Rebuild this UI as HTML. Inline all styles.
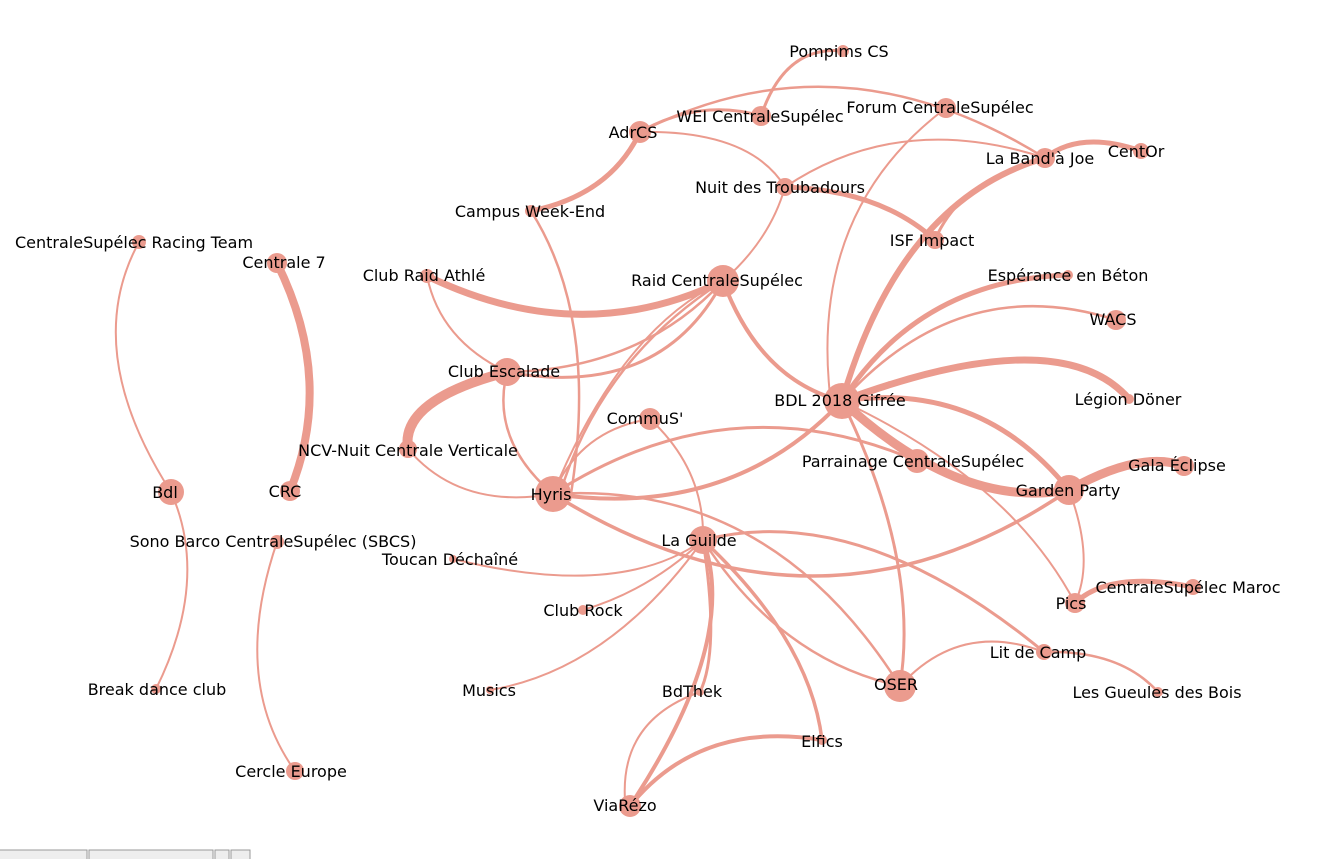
<!DOCTYPE html>
<html><head><meta charset="utf-8"><style>
html,body{margin:0;padding:0;background:#fff;width:1337px;height:859px;overflow:hidden}
svg{display:block}
text{font-family:"DejaVu Sans","Liberation Sans",sans-serif;font-size:16px;fill:#000;text-anchor:middle}
path{fill:none;stroke:#eb9b8e;stroke-linecap:round}
circle{fill:#eb9b8e}
</style></head><body>
<svg width="1337" height="859" viewBox="0 0 1337 859">
<g>
<path d="M761,116 Q785,45 843,51" stroke-width="3"/>
<path d="M640,132 Q700,98 761,116" stroke-width="3"/>
<path d="M640,132 Q840,30 1045,158" stroke-width="2.5"/>
<path d="M640,132 Q750,130 785,187" stroke-width="2"/>
<path d="M640,132 Q610,195 531,211" stroke-width="5"/>
<path d="M531,211 Q600,320 570,500" stroke-width="2.5"/>
<path d="M785,187 Q880,190 935,240" stroke-width="5"/>
<path d="M785,187 Q900,110 1045,158" stroke-width="2"/>
<path d="M785,187 Q770,240 723,281" stroke-width="2"/>
<path d="M946,108 Q810,210 830,395" stroke-width="2"/>
<path d="M1045,158 Q900,200 842,401" stroke-width="6"/>
<path d="M1141,151 Q1080,130 1045,158" stroke-width="5"/>
<path d="M1045,158 Q960,180 935,240" stroke-width="3"/>
<path d="M1068,275 Q920,280 842,401" stroke-width="5"/>
<path d="M1116,320 Q960,270 842,401" stroke-width="2.5"/>
<path d="M1129,399 Q1060,320 842,401" stroke-width="7"/>
<path d="M427,276 Q580,350 723,281" stroke-width="7"/>
<path d="M427,276 Q440,340 507,372" stroke-width="2"/>
<path d="M507,372 Q640,370 723,281" stroke-width="2.5"/>
<path d="M507,372 Q660,400 723,281" stroke-width="3"/>
<path d="M723,281 Q620,330 553,494" stroke-width="2"/>
<path d="M723,281 Q600,360 560,494" stroke-width="2.5"/>
<path d="M723,281 Q760,380 842,401" stroke-width="4"/>
<path d="M507,372 Q400,400 408,449" stroke-width="10"/>
<path d="M507,372 Q490,440 553,494" stroke-width="2.5"/>
<path d="M408,449 Q460,510 553,494" stroke-width="2"/>
<path d="M650,419 Q580,430 553,494" stroke-width="2"/>
<path d="M650,419 Q705,470 703,540" stroke-width="2"/>
<path d="M553,494 Q730,380 917,461" stroke-width="3"/>
<path d="M553,494 Q730,520 842,401" stroke-width="4"/>
<path d="M553,494 Q820,660 1069,490" stroke-width="3.5"/>
<path d="M553,494 Q770,480 900,686" stroke-width="2.5"/>
<path d="M842,401 Q980,380 1069,490" stroke-width="5"/>
<path d="M842,401 Q960,510 1069,490" stroke-width="9"/>
<path d="M842,401 Q920,560 900,686" stroke-width="3"/>
<path d="M842,401 Q1010,480 1075,603" stroke-width="2"/>
<path d="M1069,490 Q1140,450 1184,466" stroke-width="9"/>
<path d="M1069,490 Q1095,560 1075,603" stroke-width="2"/>
<path d="M1075,603 Q1110,570 1193,587" stroke-width="5"/>
<path d="M703,540 Q860,500 1044,652" stroke-width="3"/>
<path d="M703,540 Q780,660 900,686" stroke-width="2.5"/>
<path d="M703,540 Q810,640 822,740" stroke-width="3.5"/>
<path d="M703,540 Q740,640 630,806" stroke-width="4"/>
<path d="M703,540 Q720,650 700,692" stroke-width="3"/>
<path d="M703,540 Q620,600 453,559" stroke-width="2"/>
<path d="M703,540 Q650,590 583,610" stroke-width="2"/>
<path d="M703,540 Q610,670 490,690" stroke-width="2"/>
<path d="M700,692 Q620,720 625,800" stroke-width="2"/>
<path d="M630,806 Q700,720 822,740" stroke-width="4"/>
<path d="M900,686 Q960,620 1044,652" stroke-width="2"/>
<path d="M1044,652 Q1120,650 1158,692" stroke-width="2.5"/>
<path d="M277,263 Q335,380 290,491" stroke-width="8"/>
<path d="M139,242 Q80,350 171,492" stroke-width="2"/>
<path d="M171,492 Q210,580 156,689" stroke-width="2"/>
<path d="M277,542 Q230,680 295,771" stroke-width="2"/>
</g>
<g>
<circle cx="843" cy="51" r="6"/><circle cx="761" cy="116" r="10"/><circle cx="946" cy="108" r="10"/>
<circle cx="640" cy="132" r="11"/><circle cx="1045" cy="158" r="10"/><circle cx="1141" cy="151" r="8"/>
<circle cx="785" cy="187" r="9"/><circle cx="531" cy="211" r="6"/><circle cx="935" cy="240" r="9"/>
<circle cx="723" cy="281" r="16"/><circle cx="427" cy="276" r="7"/><circle cx="1068" cy="275" r="5"/>
<circle cx="1116" cy="320" r="10"/><circle cx="507" cy="372" r="14"/><circle cx="842" cy="401" r="18"/>
<circle cx="1129" cy="399" r="5"/><circle cx="650" cy="419" r="11"/><circle cx="408" cy="449" r="9"/>
<circle cx="917" cy="461" r="12"/><circle cx="1184" cy="466" r="10"/><circle cx="1069" cy="490" r="15"/>
<circle cx="553" cy="494" r="18"/><circle cx="171" cy="492" r="13"/><circle cx="290" cy="491" r="10"/>
<circle cx="277" cy="263" r="10"/><circle cx="139" cy="242" r="7"/><circle cx="703" cy="540" r="14"/>
<circle cx="277" cy="542" r="7"/><circle cx="453" cy="559" r="4"/><circle cx="583" cy="610" r="5"/>
<circle cx="1075" cy="603" r="10"/><circle cx="1193" cy="587" r="8"/><circle cx="1044" cy="652" r="8"/>
<circle cx="490" cy="690" r="4"/><circle cx="700" cy="692" r="4"/><circle cx="900" cy="686" r="16"/>
<circle cx="1158" cy="692" r="5"/><circle cx="156" cy="689" r="5"/><circle cx="822" cy="740" r="5"/>
<circle cx="295" cy="771" r="9"/><circle cx="630" cy="806" r="11"/>
</g>
<g>
<text x="839" y="57">Pompims CS</text>
<text x="760" y="122">WEI CentraleSupélec</text>
<text x="940" y="113">Forum CentraleSupélec</text>
<text x="633" y="138">AdrCS</text>
<text x="1040" y="164">La Band'à Joe</text>
<text x="1136" y="157">CentOr</text>
<text x="780" y="193">Nuit des Troubadours</text>
<text x="530" y="217">Campus Week-End</text>
<text x="932" y="246">ISF Impact</text>
<text x="134" y="248">CentraleSupélec Racing Team</text>
<text x="284" y="268">Centrale 7</text>
<text x="424" y="281">Club Raid Athlé</text>
<text x="717" y="286">Raid CentraleSupélec</text>
<text x="1068" y="281">Espérance en Béton</text>
<text x="1113" y="325">WACS</text>
<text x="504" y="377">Club Escalade</text>
<text x="840" y="406">BDL 2018 Gifrée</text>
<text x="1128" y="405">Légion Döner</text>
<text x="645" y="424">CommuS'</text>
<text x="408" y="456">NCV-Nuit Centrale Verticale</text>
<text x="913" y="467">Parrainage CentraleSupélec</text>
<text x="1177" y="471">Gala Éclipse</text>
<text x="1068" y="496">Garden Party</text>
<text x="551" y="500">Hyris</text>
<text x="165" y="498">Bdl</text>
<text x="285" y="497">CRC</text>
<text x="273" y="547">Sono Barco CentraleSupélec (SBCS)</text>
<text x="699" y="546">La Guilde</text>
<text x="450" y="565">Toucan Déchaîné</text>
<text x="583" y="616">Club Rock</text>
<text x="1071" y="609">Pics</text>
<text x="1188" y="593">CentraleSupélec Maroc</text>
<text x="1038" y="658">Lit de Camp</text>
<text x="489" y="696">Musics</text>
<text x="692" y="697">BdThek</text>
<text x="896" y="690">OSER</text>
<text x="1157" y="698">Les Gueules des Bois</text>
<text x="157" y="695">Break dance club</text>
<text x="822" y="747">Elfics</text>
<text x="291" y="777">Cercle Europe</text>
<text x="625" y="811">ViaRézo</text>
</g>
<g>
<rect x="-2" y="850" width="89" height="12" fill="#eee" stroke="#999"/>
<rect x="89" y="850" width="124" height="12" fill="#eee" stroke="#999"/>
<rect x="215" y="850" width="14" height="12" fill="#eee" stroke="#999"/>
<rect x="231" y="850" width="19" height="12" fill="#eee" stroke="#999"/>
</g>
</svg>
</body></html>
